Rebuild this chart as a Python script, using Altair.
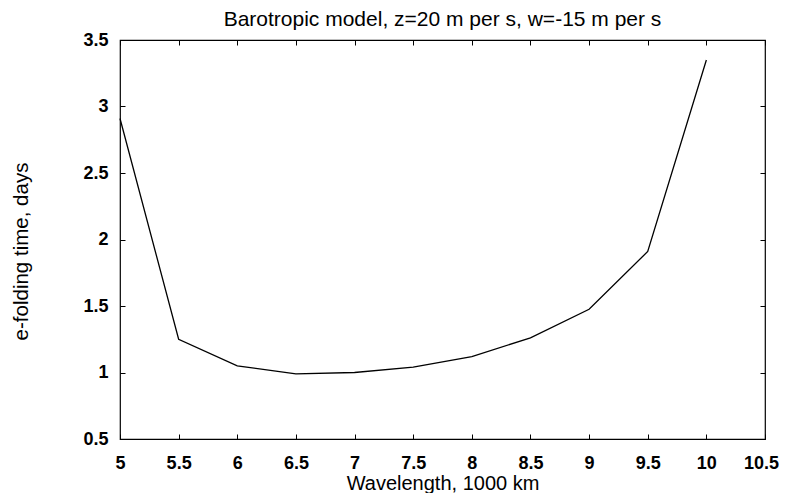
import pandas as pd
import altair as alt

# values
wavelength = [5.0, 5.5, 6.0, 6.5, 7.0, 7.5, 8.0, 8.5, 9.0, 9.5, 10.0]
efold_days = [2.91, 1.25, 1.05, 0.99, 1.00, 1.04, 1.12, 1.26, 1.475, 1.91, 3.35]

x_ticks = [5, 5.5, 6, 6.5, 7, 7.5, 8, 8.5, 9, 9.5, 10, 10.5]
y_ticks = [0.5, 1, 1.5, 2, 2.5, 3, 3.5]

FONT = "Liberation Sans"

df = pd.DataFrame({"wl": wavelength, "t": efold_days})

x_scale = alt.Scale(domain=[5, 10.5], nice=False, zero=False)
y_scale = alt.Scale(domain=[0.5, 3.5], nice=False, zero=False)

# inward ticks: axis pulled 5px into the frame
tick_common = dict(
    domain=False, grid=False, ticks=True, tickSize=5, tickColor="black",
    offset=-5,
)

main = (
    alt.Chart(df)
    .mark_line(color="black", strokeWidth=1.3)
    .encode(
        x=alt.X(
            "wl:Q", scale=x_scale,
            axis=alt.Axis(
                orient="bottom", values=x_ticks, format="~g",
                title="Wavelength, 1000 km", labelPadding=15,
                labelOffset=alt.expr("datum.value == 10.5 ? -4 : 0"),
                titlePadding=1, titleFontSize=20, labelFlush=False, **tick_common,
            ),
        ),
        y=alt.Y(
            "t:Q", scale=y_scale,
            axis=alt.Axis(
                orient="left", values=y_ticks, format="~g",
                title="e-folding time, days", labelPadding=12,
                titlePadding=51, titleFontSize=20.5, titleY=211,
                labelFlush=False, **tick_common,
            ),
        ),
    )
)

mirror = (
    alt.Chart(df)
    .mark_line(opacity=0)
    .encode(
        x=alt.X("wl:Q", scale=x_scale,
                axis=alt.Axis(orient="top", values=x_ticks, labels=False, title=None, **tick_common)),
        y=alt.Y("t:Q", scale=y_scale,
                axis=alt.Axis(orient="right", values=y_ticks, labels=False, title=None, **tick_common)),
    )
)

chart = (
    alt.layer(main, mirror)
    .resolve_axis(x="independent", y="independent")
    .properties(
        width=645,
        height=399,
        background="white",
        autosize=alt.AutoSizeParams(type="none"),
        padding={"left": 112, "top": 32, "right": 14, "bottom": 54},
        title=alt.TitleParams(
            text="Barotropic model, z=20 m per s, w=-15 m per s",
            font=FONT, fontSize=21, fontWeight="normal", anchor="middle",
            frame="group", offset=1, color="black",
        ),
    )
    .configure_view(stroke="black", strokeWidth=1.2)
    .configure_axis(
        labelFont=FONT, labelFontSize=18, labelFontWeight="bold", labelColor="black",
        titleFont=FONT, titleFontWeight="normal", titleColor="black",
    )
)

chart.save("out.html", embed_options={"renderer": "svg", "actions": False})
